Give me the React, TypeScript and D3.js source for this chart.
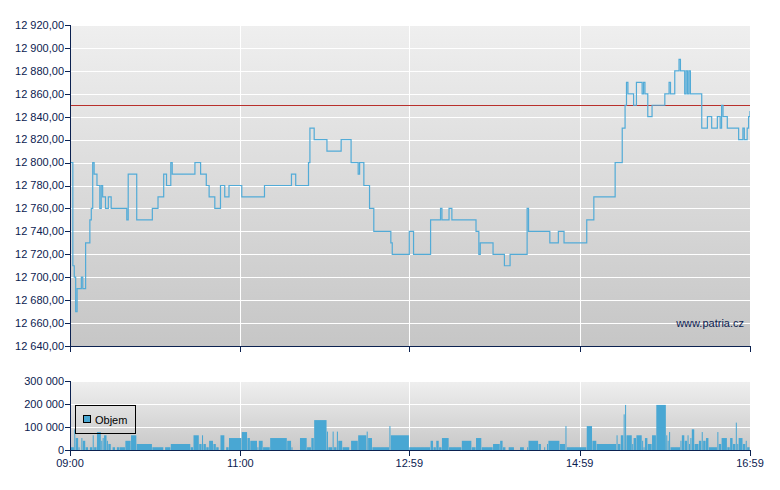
import React from 'react';
import * as d3 from 'd3';

// minutes since 09:00 open -> last trade price (step series)
const priceMinute = [
  0, 2, 3, 4, 5, 8, 9, 11, 14, 15, 16, 17, 19, 21, 22, 23, 25, 27, 29, 40,
  41, 47, 58, 62, 66, 68, 71, 72, 88, 92, 96, 98, 102, 106, 109, 112, 121, 137, 156, 159,
  168, 169, 172, 181, 191, 198, 203, 204, 207, 211, 214, 226, 227, 239, 242, 254, 261, 262, 267, 269,
  286, 288, 289, 298, 306, 310, 322, 323, 338, 344, 348, 364, 369, 384, 389, 391, 392, 393, 397, 399,
  403, 404, 405, 407, 410, 419, 422, 423, 426, 429, 430, 433, 434, 435, 436, 437, 445, 449, 452, 456,
  458, 459, 460, 463, 471, 474, 475, 477, 478, 479,
];
const priceValue = [
  12800, 12710, 12700, 12670, 12690, 12700, 12690, 12730, 12750, 12760, 12800, 12790, 12780, 12760, 12780, 12770, 12760, 12770, 12760, 12750,
  12790, 12750, 12760, 12770, 12790, 12780, 12800, 12790, 12800, 12790, 12780, 12770, 12760, 12780, 12770, 12780, 12770, 12780, 12790, 12780,
  12800, 12830, 12820, 12810, 12820, 12800, 12790, 12800, 12780, 12760, 12740, 12730, 12720, 12740, 12720, 12750, 12760, 12750, 12760, 12750,
  12740, 12720, 12730, 12720, 12710, 12720, 12760, 12740, 12730, 12740, 12730, 12750, 12770, 12800, 12830, 12850, 12870, 12860, 12850, 12870,
  12860, 12870, 12860, 12840, 12850, 12860, 12870, 12860, 12880, 12890, 12880, 12860, 12880, 12860, 12880, 12860, 12830, 12840, 12830, 12840,
  12830, 12850, 12840, 12830, 12820, 12830, 12820, 12830, 12840, 12845,
];
const previousClose = 12850;

// volume bars: start minute and volume in thousands (each bar lasts until the next one)
const volMinute = [
  0, 3, 4, 6, 7, 8, 9, 11, 13, 14, 16, 17, 19, 22, 23, 24, 26, 27, 29, 30,
  32, 33, 35, 39, 43, 47, 58, 66, 67, 71, 85, 87, 91, 93, 94, 96, 98, 101, 103, 105,
  106, 109, 110, 112, 121, 125, 127, 132, 133, 136, 141, 153, 156, 157, 162, 167, 170, 172, 181, 182,
  185, 186, 188, 189, 192, 197, 198, 203, 209, 210, 213, 225, 226, 239, 254, 256, 258, 260, 262, 267,
  276, 283, 286, 290, 298, 303, 305, 307, 309, 313, 317, 320, 322, 323, 330, 332, 334, 335, 336, 337,
  345, 349, 350, 364, 368, 371, 385, 386, 388, 390, 391, 392, 396, 397, 399, 403, 404, 405, 407, 410,
  413, 420, 421, 422, 423, 430, 431, 433, 435, 436, 437, 438, 440, 443, 445, 446, 448, 450, 456, 457,
  459, 463, 465, 467, 469, 470, 471, 474, 476, 477, 479,
];
const volThousands = [
  12, 90, 52, 12, 0, 52, 40, 12, 0, 12, 64, 12, 78, 40, 52, 64, 40, 26, 0, 12,
  0, 12, 12, 40, 64, 26, 12, 0, 12, 26, 12, 64, 26, 64, 26, 12, 40, 26, 12, 0,
  64, 0, 12, 52, 78, 52, 40, 12, 40, 12, 52, 40, 12, 0, 52, 12, 52, 130, 80, 12,
  80, 12, 80, 40, 12, 0, 40, 64, 80, 52, 12, 104, 64, 12, 40, 12, 40, 12, 52, 12,
  40, 12, 52, 12, 26, 40, 12, 0, 12, 0, 12, 0, 12, 40, 26, 0, 12, 0, 26, 40,
  26, 104, 12, 104, 40, 26, 64, 26, 64, 155, 196, 64, 26, 52, 64, 40, 12, 52, 26, 64,
  196, 64, 40, 78, 12, 40, 64, 40, 64, 26, 52, 90, 26, 40, 78, 40, 52, 12, 78, 26,
  52, 12, 52, 26, 119, 26, 52, 26, 40, 12, 0,
];

const tickMinute = [0, 120, 239, 359, 479];
const tickLabel = ['09:00', '11:00', '12:59', '14:59', '16:59'];
const priceTicks = [12640, 12660, 12680, 12700, 12720, 12740, 12760, 12780, 12800, 12820, 12840, 12860, 12880, 12900, 12920];
const volTicks = [0, 100000, 200000, 300000];

const NAVY = '#0b2150';
const BLUE = '#49a7d3';
const FONT = '"Liberation Sans", Arial, sans-serif';

const czLocale = d3.formatLocale({ decimal: ',', thousands: ' ', grouping: [3], currency: ['', ''] });
const fmtPrice = czLocale.format(',.2f');
const fmtVol = czLocale.format(',.0f');

export default function App() {
  const left = 70;
  const right = 750;
  const x = d3.scaleLinear().domain([0, 479]).range([left, right]);
  const y = d3.scaleLinear().domain([12640, 12920]).range([346, 25]);
  const yv = d3.scaleLinear().domain([0, 300000]).range([450, 381]);

  const pts = priceMinute.map((m, i) => [m, priceValue[i]] as [number, number]);
  const line = d3.line<[number, number]>()
    .x(d => x(d[0]))
    .y(d => y(d[1]))
    .curve(d3.curveStepAfter);

  const bars = volMinute.map((m, i) => {
    const next = i < volMinute.length - 1 ? volMinute[i + 1] : m + 1;
    return { m, next, v: volThousands[i] * 1000 };
  }).filter(b => b.v > 0 && b.next > b.m);

  const crisp = (v: number) => Math.round(v) + 0.5;

  return (
    <div style={{ position: 'absolute', left: 0, top: 0, width: 780, height: 490, background: '#fff' }}>
      <svg width={780} height={490} style={{ display: 'block', fontFamily: FONT }}>
        <defs>
          <linearGradient id="bgPrice" x1="0" y1="0" x2="0" y2="1">
            <stop offset="0" stopColor="#efefef" />
            <stop offset="1" stopColor="#c6c6c6" />
          </linearGradient>
          <linearGradient id="bgVol" x1="0" y1="0" x2="0" y2="1">
            <stop offset="0" stopColor="#efefef" />
            <stop offset="1" stopColor="#c8c8c8" />
          </linearGradient>
          <clipPath id="clipPrice">
            <rect x={left} y={25} width={right - left} height={321} />
          </clipPath>
        </defs>

        {/* price panel */}
        <rect x={left} y={25} width={right - left} height={321} fill="url(#bgPrice)" />
        <g shapeRendering="crispEdges" stroke="#fff">
          {priceTicks.map(t => (
            <line key={t} x1={left} x2={right} y1={crisp(y(t))} y2={crisp(y(t))} />
          ))}
          {tickMinute.map(m => (
            <line key={m} x1={crisp(x(m))} x2={crisp(x(m))} y1={25} y2={346} />
          ))}
        </g>
        <text x={744} y={327} textAnchor="end" fontSize={11} fill={NAVY}>www.patria.cz</text>
        <line x1={left} x2={right} y1={crisp(y(previousClose))} y2={crisp(y(previousClose))}
          stroke="#b8302c" strokeWidth={1} shapeRendering="crispEdges" />
        <path d={line(pts) || ''} fill="none" stroke="#52abd7" strokeWidth={1.2} clipPath="url(#clipPrice)" />

        <g shapeRendering="crispEdges" stroke={NAVY}>
          <line x1={left + 0.5} x2={left + 0.5} y1={25} y2={347} />
          <line x1={left} x2={right + 1} y1={346.5} y2={346.5} />
          {priceTicks.map(t => (
            <line key={t} x1={left - 5} x2={left} y1={crisp(y(t))} y2={crisp(y(t))} />
          ))}
          {tickMinute.map(m => (
            <line key={m} x1={crisp(x(m))} x2={crisp(x(m))} y1={346} y2={352} />
          ))}
        </g>
        {priceTicks.map(t => (
          <text key={t} x={64} y={y(t)} dy="0.35em" textAnchor="end" fontSize={11} fill={NAVY}>
            {fmtPrice(t)}
          </text>
        ))}

        {/* volume panel */}
        <rect x={left} y={381} width={right - left} height={69} fill="url(#bgVol)" />
        <g shapeRendering="crispEdges" stroke="#fff">
          {volTicks.slice(1).map(t => (
            <line key={t} x1={left} x2={right} y1={crisp(yv(t))} y2={crisp(yv(t))} />
          ))}
          {tickMinute.map(m => (
            <line key={m} x1={crisp(x(m))} x2={crisp(x(m))} y1={381} y2={450} />
          ))}
        </g>
        <g fill={BLUE}>
          {bars.map(b => (
            <rect key={b.m} x={x(b.m)} y={yv(b.v)}
              width={Math.max(1, x(b.next) - x(b.m) - 0.4)} height={450 - yv(b.v)} />
          ))}
        </g>
        <g>
          <rect x={75.5} y={405.5} width={60} height={28} fill="none" stroke="#000" strokeWidth={1} />
          <rect x={83.5} y={415.5} width={7} height={7} fill={BLUE} stroke="#000" strokeWidth={1} />
          <text x={95} y={423.5} fontSize={11} fill="#000">Objem</text>
        </g>
        <g shapeRendering="crispEdges" stroke={NAVY}>
          <line x1={left + 0.5} x2={left + 0.5} y1={381} y2={451} />
          <line x1={left} x2={right + 1} y1={450.5} y2={450.5} />
          {volTicks.map(t => (
            <line key={t} x1={left - 5} x2={left} y1={crisp(yv(t))} y2={crisp(yv(t))} />
          ))}
          {tickMinute.map(m => (
            <line key={m} x1={crisp(x(m))} x2={crisp(x(m))} y1={450} y2={456} />
          ))}
        </g>
        {volTicks.map(t => (
          <text key={t} x={64} y={yv(t)} dy="0.35em" textAnchor="end" fontSize={11} fill={NAVY}>
            {fmtVol(t)}
          </text>
        ))}
        {tickMinute.map((m, i) => (
          <text key={m} x={x(m)} y={467} textAnchor="middle" fontSize={11} fill={NAVY}>
            {tickLabel[i]}
          </text>
        ))}
      </svg>
    </div>
  );
}
